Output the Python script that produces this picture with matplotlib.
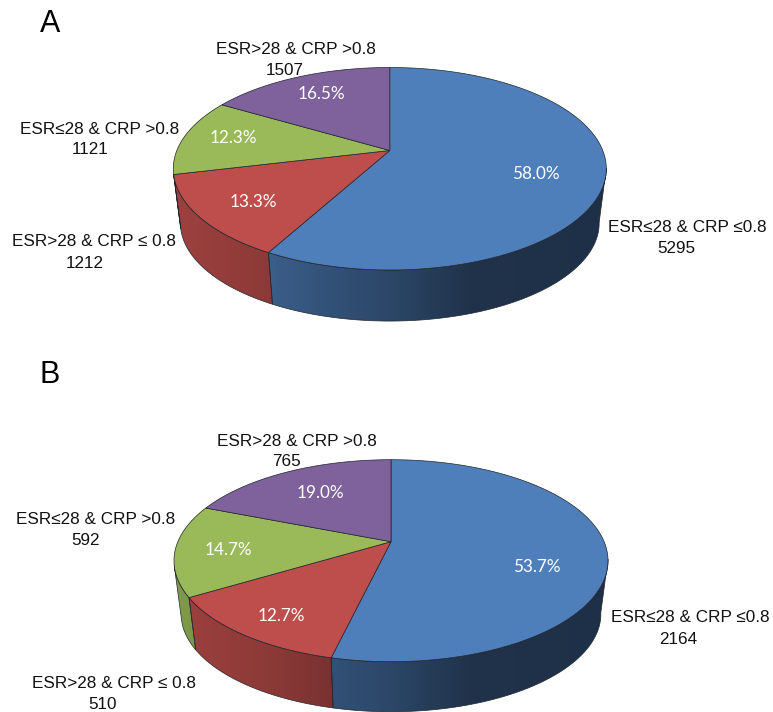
import numpy as np
import matplotlib
matplotlib.use("Agg")
import matplotlib.pyplot as plt
from matplotlib.colors import to_rgb
from matplotlib.patches import Polygon, PathPatch
from matplotlib.path import Path

# Counts per group, clockwise from 12 o'clock
groups = ["ESR\u226428 & CRP \u22640.8", "ESR>28 & CRP \u2264 0.8",
          "ESR\u226428 & CRP >0.8", "ESR>28 & CRP >0.8"]
counts_a = [5295, 1212, 1121, 1507]
counts_b = [2164, 510, 592, 765]
percent_a = ["58.0%", "13.3%", "12.3%", "16.5%"]
percent_b = ["53.7%", "12.7%", "14.7%", "19.0%"]

colors = ["#4f7fba", "#bd4e4b", "#9aba59", "#7f619c"]
edge = "#20242c"

# Pixel layout of each pie: apex x/y, half width, px above and below apex, depth
layout_a = dict(cx=389.8, cy=150.5, half=216.5, up=83, down=119.5, depth=55)
layout_b = dict(cx=391, cy=541.7, half=217, up=82, down=120, depth=54)

# Text anchors in pixels, same order as groups
pct_pos_a = [(535.7, 174), (253, 202), (233.5, 138), (321, 94)]
pct_pos_b = [(536.7, 567), (281, 616), (228, 550), (320, 493)]
name_pos_a = [(687.5, 227), (94.5, 242), (100, 129), (295.5, 50)]
name_pos_b = [(690, 618), (114, 684), (96, 520), (297, 441)]
num_pos_a = [(676, 248.5), (85, 263.5), (90, 149.5), (285, 70.5)]
num_pos_b = [(678, 639.5), (103, 704.5), (86, 540.5), (286, 461.5)]

# Shading of the side wall along x
shade_x = [175, 270, 330, 390, 470, 610]
shade_f = [0.83, 0.74, 0.64, 0.56, 0.40, 0.38]

# Part of the rim where the wall can be seen, degrees clockwise from the top
wall_from = np.deg2rad(100)
wall_to = np.deg2rad(256.5)

label_font = "Liberation Sans"
pct_font = "Lato"
label_size = 12.3


# Perspective view of the unit disc, theta clockwise from the top
def project(theta, r, g, lower=False):
    k = (g["down"] - g["up"]) / (g["down"] + g["up"])
    b = g["up"] * (1 + k)
    a = g["half"] * np.sqrt(1 - k * k)
    u = r * np.sin(theta)
    v = r * np.cos(theta)
    w = 1 + k * v
    x = a * u / w
    y = -b * v / w
    if lower:
        x = x * 0.967
        y = y * 0.967 + g["depth"]
    return g["cx"] + x, g["cy"] + y


def draw_pie(ax, counts, percents, g, pct_pos, name_pos, num_pos):
    fracs = np.array(counts) / float(sum(counts))
    edges = np.concatenate([[0], np.cumsum(fracs)]) * 2 * np.pi

    xs = np.arange(170, 615)
    shade = np.interp(xs, shade_x, shade_f)
    y0 = g["cy"] - g["up"] - 2
    y1 = g["cy"] + g["down"] + g["depth"] + 2

    # side walls first, only the front part of the rim
    for i in range(len(counts)):
        start = max(edges[i], wall_from)
        stop = min(edges[i + 1], wall_to)
        if stop <= start:
            continue
        th = np.linspace(start, stop, 200)
        tx, ty = project(th, 1, g)
        bx, by = project(th, 1, g, lower=True)
        pts = np.vstack([np.column_stack([tx, ty]),
                         np.column_stack([bx, by])[::-1]])
        img = np.outer(shade, to_rgb(colors[i])).reshape(1, len(xs), 3)
        im = ax.imshow(img, extent=(xs[0], xs[-1], y1, y0), aspect="auto", zorder=2)
        outline = Polygon(pts, closed=True, facecolor="none", edgecolor=edge,
                          lw=0.5, zorder=2.5)
        ax.add_patch(outline)
        im.set_clip_path(PathPatch(Path(pts, closed=False), transform=ax.transData))

    for i in range(len(counts)):
        th = np.linspace(edges[i], edges[i + 1], 200)
        tx, ty = project(th, 1, g)
        pts = np.vstack([[g["cx"], g["cy"]], np.column_stack([tx, ty])])
        ax.add_patch(Polygon(pts, closed=True, facecolor=colors[i],
                             edgecolor=edge, lw=0.5, zorder=3))
        ax.text(pct_pos[i][0], pct_pos[i][1], percents[i], color="white",
                family=pct_font, fontsize=12.3, ha="center", va="center", zorder=4)
        ax.text(name_pos[i][0], name_pos[i][1], groups[i], color="#111111",
                family=label_font, fontsize=label_size, ha="center", va="center", zorder=5)
        ax.text(num_pos[i][0], num_pos[i][1], str(counts[i]), color="#111111",
                family=label_font, fontsize=label_size, ha="center", va="center", zorder=5)


fig = plt.figure(figsize=(7.73, 7.12), dpi=100)
ax = fig.add_axes([0, 0, 1, 1])

draw_pie(ax, counts_a, percent_a, layout_a, pct_pos_a, name_pos_a, num_pos_a)
draw_pie(ax, counts_b, percent_b, layout_b, pct_pos_b, name_pos_b, num_pos_b)

ax.text(50, 24, "A", family=label_font, fontsize=22, ha="center", va="center", color="black")
ax.text(50, 375, "B", family=label_font, fontsize=22, ha="center", va="center", color="black")

ax.set_xlim(0, 773)
ax.set_ylim(712, 0)
ax.axis("off")

fig.savefig("out.png", dpi=100)
